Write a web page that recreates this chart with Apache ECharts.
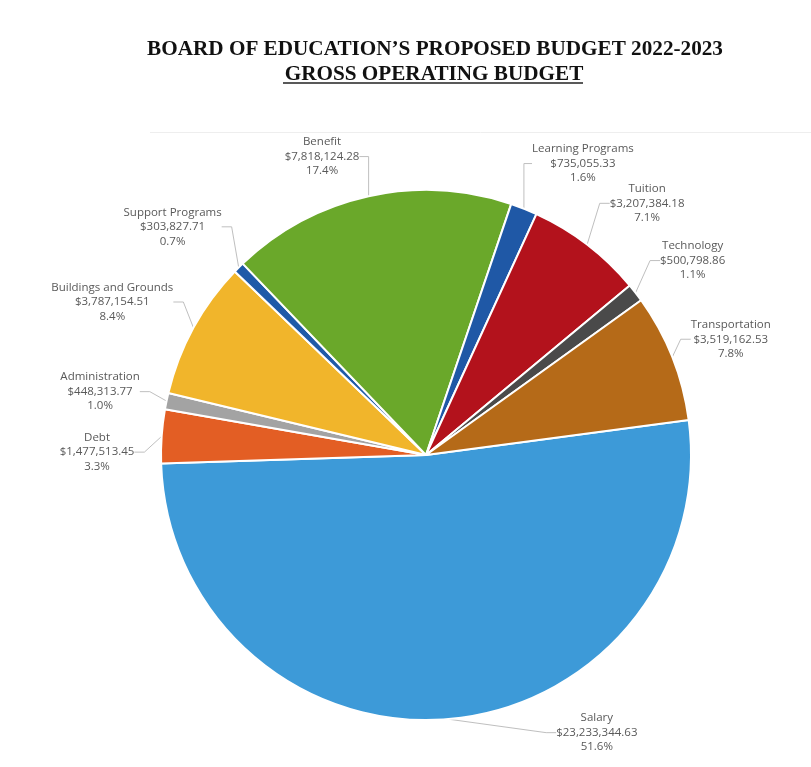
<!DOCTYPE html>
<html>
<head>
<meta charset="utf-8">
<script src="https://cdn.jsdelivr.net/npm/echarts@6/dist/echarts.min.js"></script>
<style>
  html, body { margin: 0; padding: 0; background: #ffffff; }
  #chart { width: 811px; height: 767px; }
</style>
</head>
<body>
<div id="chart"></div>
<script>
// ---- Data ----
var categories = ['Salary', 'Debt', 'Administration', 'Buildings and Grounds', 'Support Programs',
                  'Benefit', 'Learning Programs', 'Tuition', 'Technology', 'Transportation'];
var amounts = [23233344.63, 1477513.45, 448313.77, 3787154.51, 303827.71,
               7818124.28, 735055.33, 3207384.18, 500798.86, 3519162.53];
var percents = [51.6, 3.3, 1.0, 8.4, 0.7, 17.4, 1.6, 7.1, 1.1, 7.8];

// ---- Styling / layout settings ----
var sliceColors = ['#3d9ad8', '#e35e24', '#a3a3a3', '#f1b52b', '#1f5aa8',
                   '#6aa82a', '#1f58a6', '#b3121c', '#4a4a4a', '#b56a18'];
var pieCenter = [426, 455];
var pieRadius = 265;
// label anchor: polar angle (deg, ccw from 3 o'clock) and distance from the pie centre
var labelAnchor = [
  [-58.4, 326], [179.5, 329], [169, 332], [154, 349], [138, 341],
  [109.2, 316], [61.7, 331], [48.7, 335], [36.1, 330], [20.8, 326]
];

function money(v) {
  return '$' + v.toFixed(2).replace(/\B(?=(\d{3})+(?!\d))/g, ',');
}

var pieData = categories.map(function (name, i) {
  return { name: name, value: amounts[i], pct: percents[i], itemStyle: { color: sliceColors[i] } };
});

var chart = echarts.init(document.getElementById('chart'), null, { renderer: 'canvas' });

chart.setOption({
  backgroundColor: '#ffffff',
  animation: false,
  title: [{
    text: 'BOARD OF EDUCATION\u2019S PROPOSED BUDGET 2022-2023',
    left: 430, top: 34, textAlign: 'center',
    textStyle: { fontFamily: 'Liberation Serif', fontWeight: 'bold', fontSize: 21.2, color: '#111111' }
  }, {
    text: 'GROSS OPERATING BUDGET',
    left: 429, top: 59, textAlign: 'center',
    textStyle: { fontFamily: 'Liberation Serif', fontWeight: 'bold', fontSize: 21.2, color: '#111111' }
  }],
  graphic: [{
    type: 'line', shape: { x1: 283, y1: 83, x2: 583, y2: 83 },
    style: { stroke: '#222222', lineWidth: 1.5 }
  }, {
    type: 'line', shape: { x1: 150, y1: 132.5, x2: 811, y2: 132.5 },
    style: { stroke: '#eeeeee', lineWidth: 1 }
  }],
  series: [{
    type: 'pie',
    center: pieCenter,
    radius: pieRadius,
    startAngle: 7.6,
    clockwise: true,
    data: pieData,
    itemStyle: { borderColor: '#ffffff', borderWidth: 2 },
    label: {
      show: true,
      position: 'outside',
      fontFamily: 'Open Sans',
      fontSize: 11.5,
      lineHeight: 14.5,
      color: '#595959',
      align: 'center',
      formatter: function (p) {
        return p.name + '\n' + money(p.value) + '\n' + p.data.pct.toFixed(1) + '%';
      }
    },
    labelLine: { show: true, length: 20, length2: 10, lineStyle: { color: '#bfbfbf', width: 1 } },
    labelLayout: function (params) {
      var a = labelAnchor[params.dataIndex];
      var rad = a[0] * Math.PI / 180;
      return {
        x: pieCenter[0] + a[1] * Math.cos(rad),
        y: pieCenter[1] - a[1] * Math.sin(rad),
        align: 'center',
        verticalAlign: 'middle'
      };
    }
  }]
});
</script>
</body>
</html>
